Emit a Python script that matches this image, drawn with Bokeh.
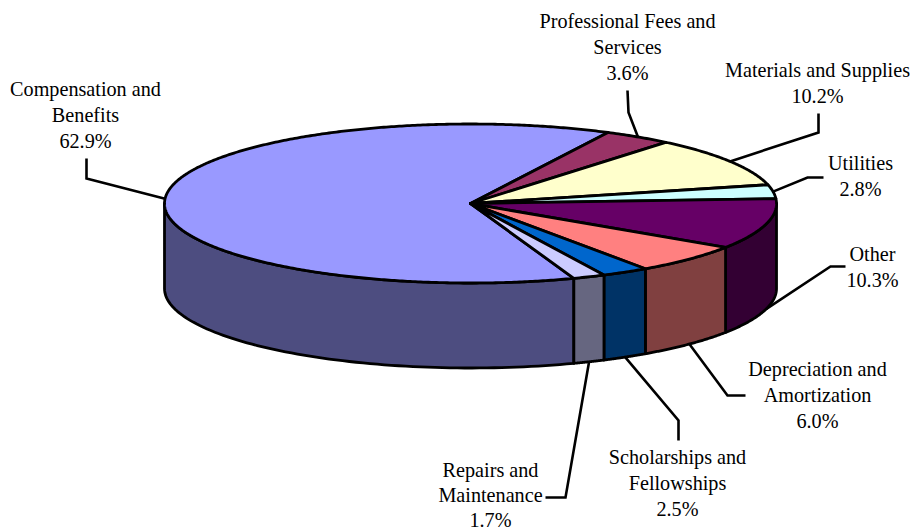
import numpy as np
from bokeh.plotting import figure
from bokeh.embed import file_html
from bokeh.resources import INLINE
from bokeh.core.properties import value
from bokeh.models import Range1d

categories = ["Compensation and\nBenefits", "Professional Fees and\nServices", "Materials and Supplies",
              "Utilities", "Other", "Depreciation and\nAmortization", "Scholarships and\nFellowships",
              "Repairs and\nMaintenance"]
values = [62.9, 3.6, 10.2, 2.8, 10.3, 6.0, 2.5, 1.7]
top_colors = ["#9999FF", "#993366", "#FFFFCC", "#CCFFFF", "#660066", "#FF8080", "#0066CC", "#CCCCFF"]
side_colors = ["#4D4D80", "#4D1A33", "#808066", "#668080", "#330033", "#804040", "#003366", "#666680"]

# layout (page pixels)
CX, CY, RX, RY, DEPTH = 470.0, 203.0, 306.0, 79.5, 85.0
START_DEG = 63.3   # where the first slice ends, going anticlockwise
label_x = [85, 627, 817, 860, 872, 817, 677, 490]
label_y = [88, 20, 69, 162, 253, 368, 456, 469]
line_h = [26, 26, 26, 26, 26, 26, 26, 25]
elbows = [[(86, 178), (86, 158)], [(628, 112), (627, 90)], [(818, 132), (818, 113)],
          [(807, 177), (823, 177)], [(830, 266), (845, 266)], [(727, 395), (745, 395)],
          [(678, 420), (678, 440)], [(565, 497), (545, 497)]]

def pt(deg, dy=0.0):
    a = np.radians(deg)
    return CX + RX * np.cos(a), CY - RY * np.sin(a) + dy

spans = [v / sum(values) * 360 for v in values]
edges = {}
ang = START_DEG
for i in list(range(1, len(values))) + [0]:
    edges[i] = (ang - spans[i], ang)
    ang -= spans[i]

p = figure(width=914, height=531, x_range=Range1d(0, 914), y_range=Range1d(531, 0),
           toolbar_location=None, output_backend="svg", min_border=0)
p.axis.visible = False
p.grid.visible = False
p.outline_line_color = None
p.background_fill_color = "white"

LW = 2.8
for i in range(len(values)):
    lo, hi = edges[i]
    mid = (lo + hi) / 2
    s = np.sin(np.radians(mid))
    ax, ay = pt(mid, DEPTH if s < -0.1 else 0.0)
    xs = [ax] + [e[0] for e in elbows[i]]
    ys = [ay] + [e[1] for e in elbows[i]]
    p.line(xs, ys, line_color="black", line_width=2.6, line_join="miter")

for i in range(len(values)):
    lo, hi = edges[i]
    for shift in (0, -360, 360):
        a, b = lo + shift, hi + shift
        a2, b2 = max(a, -180.0), min(b, 0.0)
        if b2 > a2:
            t = np.linspace(a2, b2, 80)
            x1, y1 = pt(t)
            x2, y2 = pt(t[::-1], DEPTH)
            p.patch(np.r_[x1, x2], np.r_[y1, y2], fill_color=side_colors[i],
                    line_color="black", line_width=LW, line_join="round")

for i in range(len(values)):
    lo, hi = edges[i]
    t = np.linspace(lo, hi, max(int(hi - lo) * 2, 8))
    x, y = pt(t)
    p.patch(np.r_[CX, x], np.r_[CY, y], fill_color=top_colors[i],
            line_color="black", line_width=LW, line_join="round")

for i, cat in enumerate(categories):
    lines = cat.split("\n") + [f"{values[i]:.1f}%"]
    ys = [label_y[i] + k * line_h[i] for k in range(len(lines))]
    p.text([label_x[i]] * len(lines), ys, text=lines, text_font=value("Liberation Serif"),
           text_font_size="20.2px", text_color="black", text_align="center", text_baseline="middle")

open("out.html", "w").write(file_html(p, INLINE))
